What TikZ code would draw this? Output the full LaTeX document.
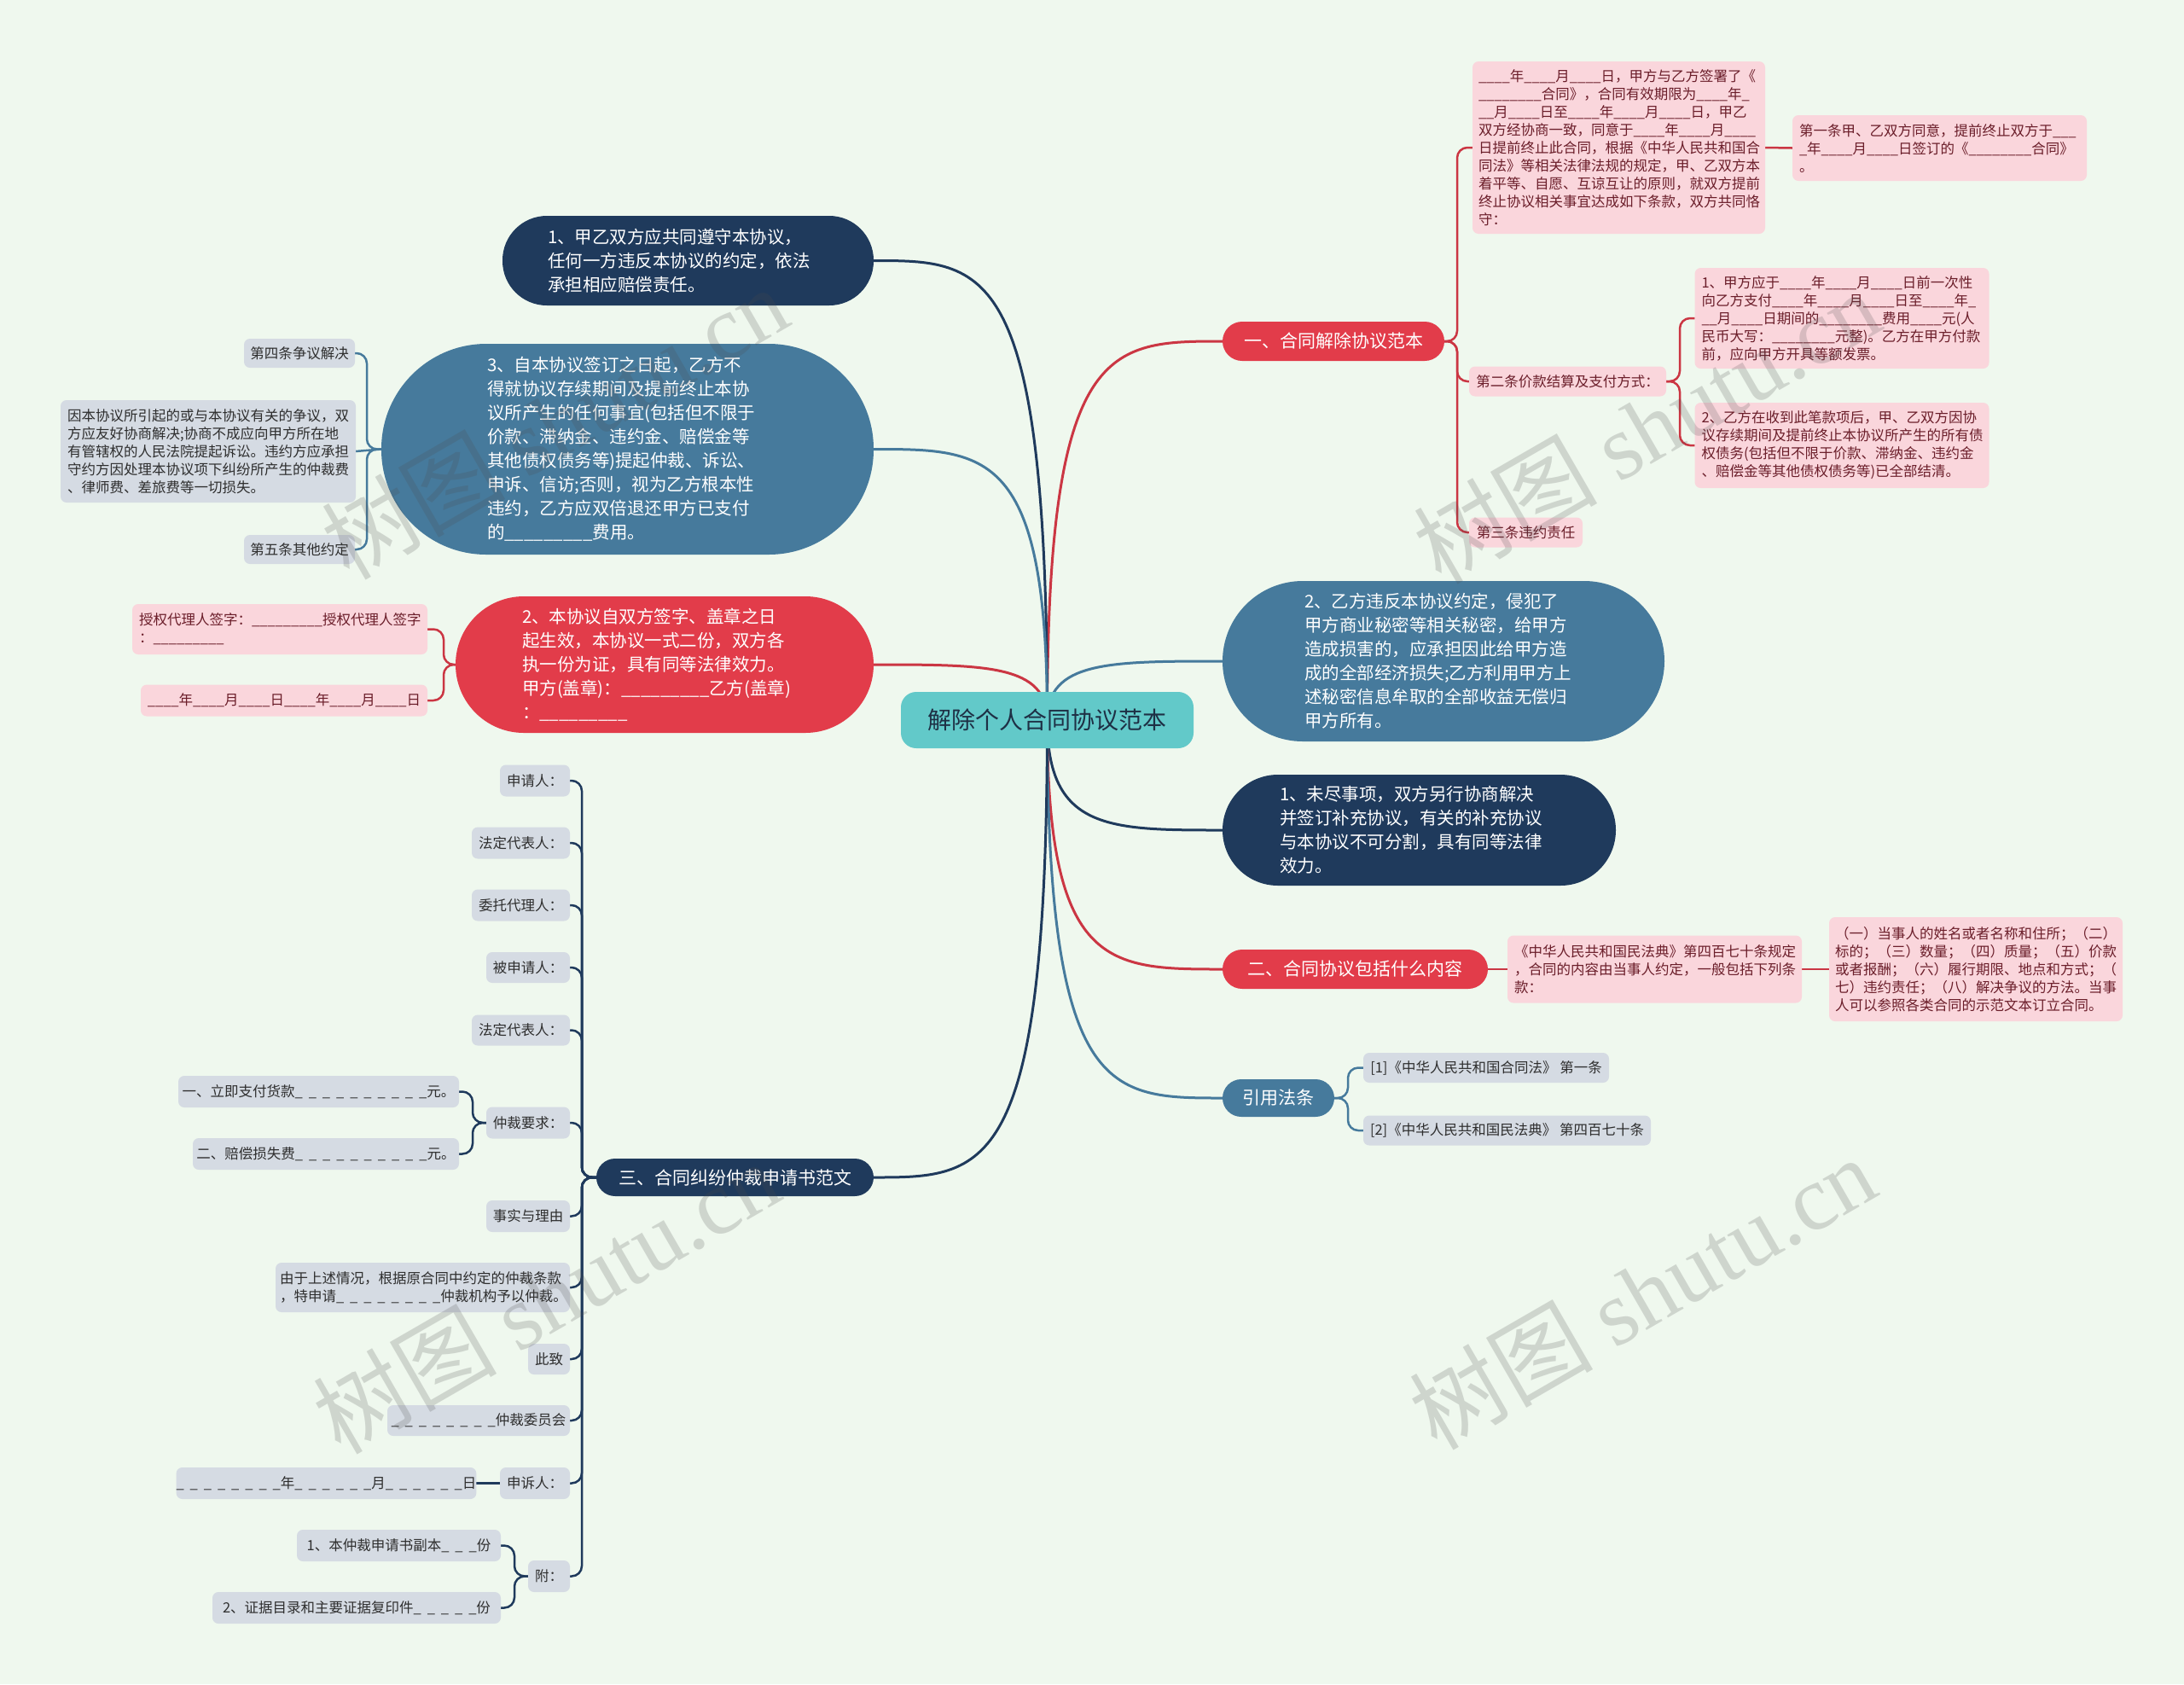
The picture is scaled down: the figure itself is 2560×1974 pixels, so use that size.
\documentclass[tikz,border=0pt]{standalone}
\usepackage{fontspec}
\setmainfont{Noto Sans CJK SC}
\newfontfamily\wmfont{Liberation Serif}
\usetikzlibrary{calc,backgrounds}
\definecolor{bg}{HTML}{EFF8EE}
\definecolor{rootc}{HTML}{62C9C9}
\definecolor{roottxt}{HTML}{1E3045}
\definecolor{redc}{HTML}{E23C4A}
\definecolor{navyc}{HTML}{1F3A5C}
\definecolor{steelc}{HTML}{467A9C}
\definecolor{pinkc}{HTML}{FAD6DC}
\definecolor{pinktxt}{HTML}{6B1E2A}
\definecolor{grayc}{HTML}{D5DBE3}
\definecolor{graytxt}{HTML}{2E2E2E}
\newcommand\gapus{\_\kern0.42em}
\newcommand\rootlink[2]{\draw[#1] (root.center) .. controls (root.center |- #2) and ($(root.center |- #2)!0.35!(#2)$) .. (#2);}
\begin{document}
\begin{tikzpicture}[x=1pt,y=-1pt,
  base/.style={inner sep=0pt, outer sep=0pt, align=left},
  sm/.style={font=\fontsize{16.5}{21}\selectfont},
  pinkbox/.style={base, sm, fill=pinkc, text=pinktxt, rounded corners=7pt},
  graybox/.style={base, sm, fill=grayc, text=graytxt, rounded corners=7pt},
  bigpill/.style={base, text=white, font=\fontsize{20.5}{28}\selectfont},
  brpill/.style={base, align=center, text=white, font=\fontsize{21}{26}\selectfont},
  ln/.style={line width=3pt},
  sub/.style={line width=2.5pt, rounded corners=12pt},
  redln/.style={draw=redc!90!black},
  navyln/.style={draw=navyc},
  steelln/.style={draw=steelc},
  wm/.style={rotate=30, text=black!70, text opacity=0.2, font=\fontsize{108}{108}\selectfont, inner sep=0pt}
]
\useasboundingbox (0,0) rectangle (2560,1974);

% root
\node[base, align=center, fill=rootc, text=roottxt, rounded corners=18pt, minimum width=343pt, minimum height=66pt, font=\fontsize{28}{32}\selectfont] (root) at (1227.5,844) {解除个人合同协议范本};

% ---------- right side ----------
\node[brpill, fill=redc, minimum width=260pt, minimum height=46pt, rounded corners=23pt] (R1) at (1563,400) {一、合同解除协议范本};
\node[pinkbox, minimum width=343pt, minimum height=202pt, text width=329pt] (R1a) at (1897.5,173) {\_\_\_\_年\_\_\_\_月\_\_\_\_日，甲方与乙方签署了《\\\_\_\_\_\_\_\_\_合同》，合同有效期限为\_\_\_\_年\_\\\_\_月\_\_\_\_日至\_\_\_\_年\_\_\_\_月\_\_\_\_日，甲乙\\双方经协商一致，同意于\_\_\_\_年\_\_\_\_月\_\_\_\_\\日提前终止此合同，根据《中华人民共和国合\\同法》等相关法律法规的规定，甲、乙双方本\\着平等、自愿、互谅互让的原则，就双方提前\\终止协议相关事宜达成如下条款，双方共同恪\\守：};
\node[pinkbox, minimum width=345pt, minimum height=77pt, text width=329pt] (R1a1) at (2273.5,173.5) {第一条甲、乙双方同意，提前终止双方于\_\_\_\\\_年\_\_\_\_月\_\_\_\_日签订的《\_\_\_\_\_\_\_\_合同》\\。};
\node[pinkbox, minimum width=231pt, minimum height=35pt] (R1b) at (1837.5,447) {第二条价款结算及支付方式：};
\node[pinkbox, minimum width=345pt, minimum height=118pt, text width=329pt] (R1b1) at (2159,373) {1、甲方应于\_\_\_\_年\_\_\_\_月\_\_\_\_日前一次性\\向乙方支付\_\_\_\_年\_\_\_\_月\_\_\_\_日至\_\_\_\_年\_\\\_\_月\_\_\_\_日期间的\_\_\_\_\_\_\_\_费用\_\_\_\_元(人\\民币大写：\_\_\_\_\_\_\_\_元整)。乙方在甲方付款\\前，应向甲方开具等额发票。};
\node[pinkbox, minimum width=345pt, minimum height=100pt, text width=329pt] (R1b2) at (2159,522) {2、乙方在收到此笔款项后，甲、乙双方因协\\议存续期间及提前终止本协议所产生的所有债\\权债务(包括但不限于价款、滞纳金、违约金\\、赔偿金等其他债权债务等)已全部结清。};
\node[pinkbox, minimum width=133pt, minimum height=35pt] (R1c) at (1788.5,624) {第三条违约责任};

\node[bigpill, fill=steelc, minimum width=518pt, minimum height=188pt, rounded corners=94pt, text width=326pt] (R2) at (1692,775) {2、乙方违反本协议约定，侵犯了\\甲方商业秘密等相关秘密，给甲方\\造成损害的，应承担因此给甲方造\\成的全部经济损失;乙方利用甲方上\\述秘密信息牟取的全部收益无偿归\\甲方所有。};
\node[bigpill, fill=navyc, minimum width=461pt, minimum height=130pt, rounded corners=65pt, text width=327pt] (R3) at (1663.5,973) {1、未尽事项，双方另行协商解决\\并签订补充协议，有关的补充协议\\与本协议不可分割，具有同等法律\\效力。};

\node[brpill, fill=redc, minimum width=311pt, minimum height=46pt, rounded corners=23pt] (R4) at (1588.5,1136) {二、合同协议包括什么内容};
\node[pinkbox, minimum width=345pt, minimum height=79pt, text width=329pt] (R4a) at (1939.5,1136) {《中华人民共和国民法典》第四百七十条规定\\，合同的内容由当事人约定，一般包括下列条\\款：};
\node[pinkbox, minimum width=344pt, minimum height=122pt, text width=330pt] (R4a1) at (2316,1136) {（一）当事人的姓名或者名称和住所；（二）\\标的；（三）数量；（四）质量；（五）价款\\或者报酬；（六）履行期限、地点和方式；（\\七）违约责任；（八）解决争议的方法。当事\\人可以参照各类合同的示范文本订立合同。};

\node[brpill, fill=steelc, minimum width=131pt, minimum height=44pt, rounded corners=22pt] (R5) at (1498.5,1287) {引用法条};
\node[graybox, minimum width=288pt, minimum height=35pt] (R5a) at (1742,1251.5) {[1]《中华人民共和国合同法》 第一条};
\node[graybox, minimum width=337pt, minimum height=35pt] (R5b) at (1766.5,1325) {[2]《中华人民共和国民法典》 第四百七十条};

% ---------- left side ----------
\node[bigpill, fill=navyc, minimum width=435pt, minimum height=105pt, rounded corners=52pt, text width=329pt] (L1) at (806.5,305.5) {1、甲乙双方应共同遵守本协议，\\任何一方违反本协议的约定，依法\\承担相应赔偿责任。};

\node[bigpill, fill=steelc, minimum width=577pt, minimum height=247pt, rounded corners=123pt, text width=329pt] (L2) at (735.5,526.5) {3、自本协议签订之日起，乙方不\\得就协议存续期间及提前终止本协\\议所产生的任何事宜(包括但不限于\\价款、滞纳金、违约金、赔偿金等\\其他债权债务等)提起仲裁、诉讼、\\申诉、信访;否则，视为乙方根本性\\违约，乙方应双倍退还甲方已支付\\的\_\_\_\_\_\_\_\_\_费用。};
\node[graybox, minimum width=130pt, minimum height=34pt] (L2a) at (351,414) {第四条争议解决};
\node[graybox, minimum width=346pt, minimum height=120pt, text width=330pt] (L2b) at (244,529) {因本协议所引起的或与本协议有关的争议，双\\方应友好协商解决;协商不成应向甲方所在地\\有管辖权的人民法院提起诉讼。违约方应承担\\守约方因处理本协议项下纠纷所产生的仲裁费\\、律师费、差旅费等一切损失。};
\node[graybox, minimum width=130pt, minimum height=34pt] (L2c) at (351,644) {第五条其他约定};

\node[bigpill, fill=redc, minimum width=490pt, minimum height=160pt, rounded corners=80pt, text width=334pt] (L3) at (779,779) {2、本协议自双方签字、盖章之日\\起生效，本协议一式二份，双方各\\执一份为证，具有同等法律效力。\\甲方(盖章)：\_\_\_\_\_\_\_\_\_乙方(盖章)\\：\_\_\_\_\_\_\_\_\_};
\node[pinkbox, minimum width=346pt, minimum height=59pt, text width=330pt] (L3a) at (328,737.5) {授权代理人签字：\_\_\_\_\_\_\_\_\_授权代理人签字\\：\_\_\_\_\_\_\_\_\_};
\node[pinkbox, minimum width=336pt, minimum height=37pt] (L3b) at (333,821) {\_\_\_\_年\_\_\_\_月\_\_\_\_日\_\_\_\_年\_\_\_\_月\_\_\_\_日};

\node[brpill, fill=navyc, minimum width=325pt, minimum height=44pt, rounded corners=22pt] (L4) at (861.5,1380) {三、合同纠纷仲裁申请书范文};
\node[graybox, minimum width=82pt, minimum height=37pt] (K1) at (627,915) {申请人：};
\node[graybox, minimum width=115pt, minimum height=37pt] (K2) at (610.5,988) {法定代表人：};
\node[graybox, minimum width=115pt, minimum height=37pt] (K3) at (610.5,1061) {委托代理人：};
\node[graybox, minimum width=98pt, minimum height=36pt] (K4) at (619,1134) {被申请人：};
\node[graybox, minimum width=115pt, minimum height=36pt] (K5) at (610.5,1207.5) {法定代表人：};
\node[graybox, minimum width=98pt, minimum height=37pt] (K6) at (619,1316) {仲裁要求：};
\node[graybox, minimum width=329pt, minimum height=37pt] (K6a) at (373.5,1279.5) {一、立即支付货款\gapus\gapus\gapus\gapus\gapus\gapus\gapus\gapus\gapus\_元。};
\node[graybox, minimum width=312pt, minimum height=37pt] (K6b) at (382,1352.5) {二、赔偿损失费\gapus\gapus\gapus\gapus\gapus\gapus\gapus\gapus\gapus\_元。};
\node[graybox, minimum width=98pt, minimum height=37pt] (K7) at (619,1425.5) {事实与理由};
\node[graybox, minimum width=345pt, minimum height=58pt, text width=335pt] (K8) at (495.5,1509) {由于上述情况，根据原合同中约定的仲裁条款\\，特申请\gapus\gapus\gapus\gapus\gapus\gapus\gapus\_仲裁机构予以仲裁。};
\node[graybox, minimum width=49pt, minimum height=36pt] (K9) at (643.5,1593) {此致};
\node[graybox, minimum width=214pt, minimum height=36pt] (K10) at (561,1665) {\gapus\gapus\gapus\gapus\gapus\gapus\gapus\_仲裁委员会};
\node[graybox, minimum width=82pt, minimum height=37pt] (K11) at (627,1738.5) {申诉人：};
\node[graybox, minimum width=345pt, minimum height=37pt] (K11a) at (382.5,1738.5) {\gapus\gapus\gapus\gapus\gapus\gapus\gapus\_年\gapus\gapus\gapus\gapus\gapus\_月\gapus\gapus\gapus\gapus\gapus\_日};
\node[graybox, minimum width=49pt, minimum height=37pt] (K12) at (643.5,1847.5) {附：};
\node[graybox, minimum width=239pt, minimum height=37pt] (K12a) at (467.5,1811.5) {1、本仲裁申请书副本\gapus\gapus\_份};
\node[graybox, minimum width=338pt, minimum height=37pt] (K12b) at (418,1884.5) {2、证据目录和主要证据复印件\gapus\gapus\gapus\gapus\_份};

% ---------- connectors ----------
\begin{scope}[on background layer]
\fill[bg] (0,0) rectangle (2560,1974);
\rootlink{ln, redln}{R1.west}
\rootlink{ln, steelln}{R2.west}
\rootlink{ln, navyln}{R3.west}
\rootlink{ln, redln}{R4.west}
\rootlink{ln, steelln}{R5.west}
\rootlink{ln, navyln}{L1.east}
\rootlink{ln, steelln}{L2.east}
\rootlink{ln, redln}{L3.east}
\rootlink{ln, navyln}{L4.east}

\draw[sub, redln] (R1.east) -- ++(15,0) |- (R1a.west);
\draw[sub, redln] (R1.east) -- ++(15,0) |- (R1b.west);
\draw[sub, redln] (R1.east) -- ++(15,0) |- (R1c.west);
\draw[sub, redln] (R1a.east) -- (R1a1.west);
\draw[sub, redln] (R1b.east) -- ++(16,0) |- (R1b1.west);
\draw[sub, redln] (R1b.east) -- ++(16,0) |- (R1b2.west);
\draw[sub, redln] (R4.east) -- (R4a.west);
\draw[sub, redln] (R4a.east) -- (R4a1.west);
\draw[sub, steelln] (R5.east) -- ++(16,0) |- (R5a.west);
\draw[sub, steelln] (R5.east) -- ++(16,0) |- (R5b.west);

\draw[sub, steelln] (L2.west) -- ++(-17,0) |- (L2a.east);
\draw[sub, steelln] (L2.west) -- (L2b.east);
\draw[sub, steelln] (L2.west) -- ++(-17,0) |- (L2c.east);
\draw[sub, redln] (L3.west) -- ++(-14,0) |- (L3a.east);
\draw[sub, redln] (L3.west) -- ++(-14,0) |- (L3b.east);
\foreach \k in {K1,K2,K3,K4,K5,K6,K7,K8,K9,K10,K11,K12}{
  \draw[sub, navyln] (L4.west) -- ++(-17,0) |- (\k.east);
}
\draw[sub, navyln] (K6.west) -- ++(-16,0) |- (K6a.east);
\draw[sub, navyln] (K6.west) -- ++(-16,0) |- (K6b.east);
\draw[sub, navyln] (K11.west) -- (K11a.east);
\draw[sub, navyln] (K12.west) -- ++(-16,0) |- (K12a.east);
\draw[sub, navyln] (K12.west) -- ++(-16,0) |- (K12b.east);
\end{scope}

% ---------- watermark ----------
\node[wm] (wm1) at (650,495) {树图 {\wmfont shutu.cn}};
\node[wm] (wm2) at (1930,500) {树图 {\wmfont shutu.cn}};
\node[wm] (wm3) at (640,1520) {树图 {\wmfont shutu.cn}};
\node[wm] (wm4) at (1925,1515) {树图 {\wmfont shutu.cn}};
\end{tikzpicture}
\end{document}
